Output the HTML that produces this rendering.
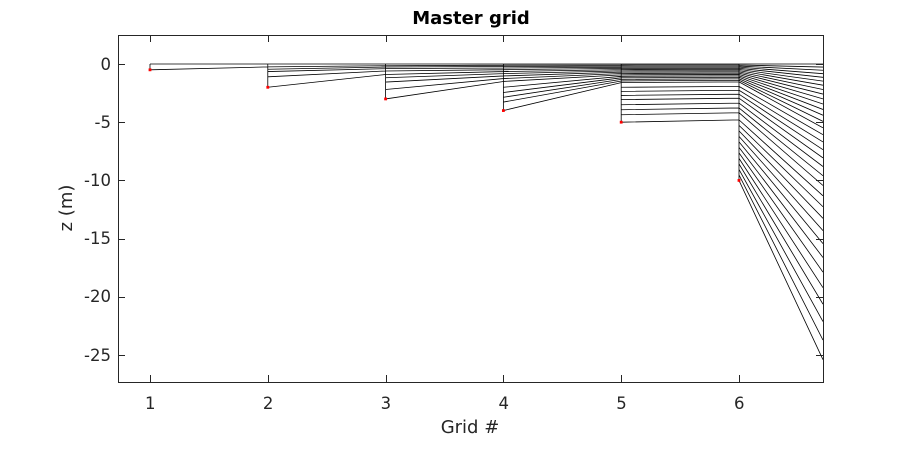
<!DOCTYPE html>
<html>
<head>
<meta charset="utf-8">
<style>
  html,body{margin:0;padding:0;background:#fff;}
  svg{display:block;}
  text{font-family:"DejaVu Sans","Liberation Sans",sans-serif;}
</style>
</head>
<body>
<svg id="s" width="910" height="460" viewBox="0 0 910 460" xmlns="http://www.w3.org/2000/svg">
  <rect x="0" y="0" width="910" height="460" fill="#ffffff"/>
  <defs>
    <clipPath id="clip"><rect x="118" y="35" width="705" height="347"/></clipPath>
  </defs>
  <g id="lines" clip-path="url(#clip)" stroke="#000" stroke-width="0.8" fill="none"></g>
  <g id="dots" fill="#ff0000"></g>
  <!-- axes box -->
  <rect x="118.5" y="35.5" width="705" height="347" fill="none" stroke="#262626" stroke-width="1"/>
  <g id="ticks" stroke="#262626" stroke-width="1"></g>
  <!-- x tick labels -->
  <g fill="#262626" font-size="16.5" text-anchor="middle">
    <text x="150.3" y="409">1</text>
    <text x="268.1" y="409">2</text>
    <text x="385.9" y="409">3</text>
    <text x="503.7" y="409">4</text>
    <text x="621.5" y="409">5</text>
    <text x="739.3" y="409">6</text>
  </g>
  <!-- y tick labels -->
  <g fill="#262626" font-size="16.5" text-anchor="end">
    <text x="111" y="70">0</text>
    <text x="111" y="128">-5</text>
    <text x="111" y="186">-10</text>
    <text x="111" y="244">-15</text>
    <text x="111" y="302">-20</text>
    <text x="111" y="361">-25</text>
  </g>
  <text x="470" y="433" font-size="18" fill="#262626" text-anchor="middle">Grid #</text>
  <text transform="translate(72,208) rotate(-90)" font-size="18" fill="#262626" text-anchor="middle">z (m)</text>
  <text x="471" y="24" font-size="18" font-weight="bold" fill="#000" text-anchor="middle">Master grid</text>
</svg>
<script>
(function(){
  var NS="http://www.w3.org/2000/svg";
  function X(x){return 118+(x-0.7284)*117.8;}
  function Y(z){return 64+z*11.64;}
  function stretch(n,d,a){var r=[];for(var k=0;k<=n;k++){r.push(d*(Math.exp(a*k/n)-1)/(Math.exp(a)-1));}return r;}
  var G1=[0,0.5];
  var G2=[0,0.25,0.45,0.65,1.1,2];
  var G3=[0,0.15,0.26,0.4,0.6,0.9,1.18,1.55,2.19,3];
  var G4=stretch(9,1.5,1.0).concat([2.0,2.45,2.86,3.27,4.0]);
  var G5=stretch(14,1.6,0.5).concat([2.0,2.35,2.7,3.06,3.5,3.93,4.36,5.0]);
  var G6=G5.map(function(v){return v*0.96;});
  for(var k=1;k<=11;k++){G6.push(4.8+k*5.2/11);}
  var G=[G1,G2,G3,G4,G5,G6];
  var inc=[],tot=0;
  for(var k=0;k<G6.length-1;k++){var v=Math.pow(1.06,k);inc.push(v);tot+=v;}
  var E=[0],acc=0;
  for(var k=0;k<inc.length;k++){acc+=inc[k]*25.4/tot;E.push(acc);}
  var lines=document.getElementById('lines');
  var d="";
  function seg(x1,z1,x2,z2){d+="M"+X(x1).toFixed(2)+" "+Y(z1).toFixed(2)+"L"+X(x2).toFixed(2)+" "+Y(z2).toFixed(2);}
  for(var i=0;i<5;i++){
    var a=G[i],b=G[i+1];
    for(var k=0;k<a.length;k++){seg(i+1,a[k],i+2,b[k]);}
  }
  for(var k=0;k<G6.length;k++){seg(6,G6[k],6.713,E[k]);}
  for(var i=0;i<6;i++){var g=G[i];seg(i+1,0,i+1,g[g.length-1]);}
  var p=document.createElementNS(NS,'path');p.setAttribute('d',d);lines.appendChild(p);
  var dots=document.getElementById('dots');
  for(var i=0;i<6;i++){var g=G[i];var c=document.createElementNS(NS,'rect');
    c.setAttribute('x',(X(i+1)-1.4).toFixed(2));c.setAttribute('y',(Y(g[g.length-1])-1.4).toFixed(2));
    c.setAttribute('width','2.8');c.setAttribute('height','2.8');dots.appendChild(c);}
  var t=document.getElementById('ticks');var td="";
  for(var i=1;i<=6;i++){var x=Math.round(X(i))+0.5;td+="M"+x+" 382L"+x+" 375M"+x+" 35L"+x+" 42";}
  for(var z=0;z<=25;z+=5){var y=Math.round(Y(z))+0.5;td+="M118 "+y+"L125 "+y+"M823 "+y+"L816 "+y;}
  var tp=document.createElementNS(NS,'path');tp.setAttribute('d',td);t.appendChild(tp);
})();
</script>
</body>
</html>
